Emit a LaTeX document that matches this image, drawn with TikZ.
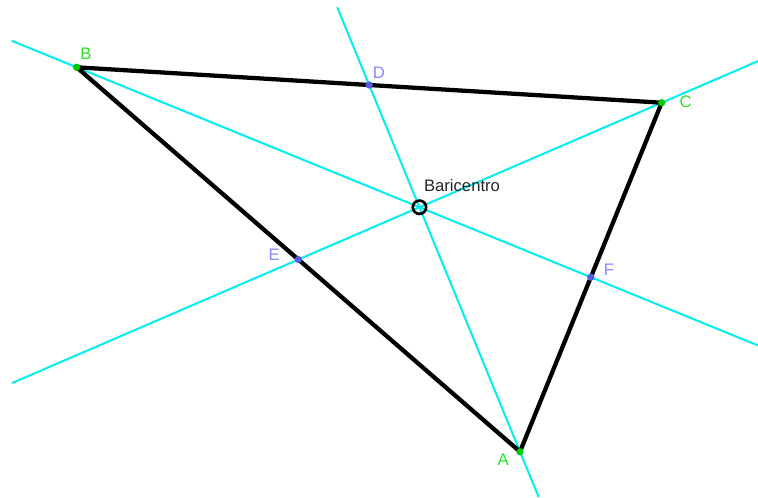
\documentclass[tikz,border=0pt]{standalone}
\usepackage{fontspec}
\setmainfont{Liberation Sans}
\usetikzlibrary{calc}
\definecolor{medcyan}{RGB}{0,238,238}
\definecolor{ptgreen}{RGB}{0,200,0}
\definecolor{labgreen}{RGB}{40,225,40}
\definecolor{midblue}{RGB}{90,90,225}
\definecolor{midlab}{RGB}{135,135,250}

\begin{document}
\begin{tikzpicture}[x=0.75pt, y=-0.75pt, every node/.style={font=\fontsize{12.5}{14}\selectfont},
    side/.style={line width=3.2pt, line cap=round, line join=round},
    median/.style={medcyan, line width=1.5pt},
    vertex/.style={circle, fill=ptgreen, inner sep=0pt, minimum size=5.5pt},
    midpt/.style={circle, fill=midblue, inner sep=0pt, minimum size=5.5pt}]
    \useasboundingbox (0,0) rectangle (758,497);

    % vertices of the triangle
    \coordinate (A) at (520,451.7);
    \coordinate (B) at (76.7,67.3);
    \coordinate (C) at (661.7,102.7);

    % midpoints of the sides
    \coordinate (D) at ($(B)!0.5!(C)$);
    \coordinate (E) at ($(A)!0.5!(B)$);
    \coordinate (F) at ($(A)!0.5!(C)$);

    % ends of the medians
    \coordinate (ad1) at ($(A)!-0.1235!(D)$);
    \coordinate (ad2) at ($(A)!1.212!(D)$);
    \coordinate (bf1) at ($(B)!-0.1264!(F)$);
    \coordinate (bf2) at ($(B)!1.3247!(F)$);
    \coordinate (ce1) at ($(C)!-0.265!(E)$);
    \coordinate (ce2) at ($(C)!1.7878!(E)$);

    \draw[median] (ad1) -- (ad2);
    \draw[median] (bf1) -- (bf2);
    \draw[median] (ce1) -- (ce2);

    \draw[side] (A) -- (B) -- (C) -- cycle;

    \node[vertex] (pA) at (A) {};
    \node[vertex] (pB) at (B) {};
    \node[vertex] (pC) at (C) {};
    \node[midpt] (pD) at (D) {};
    \node[midpt] (pE) at (E) {};
    \node[midpt] (pF) at (F) {};

    \node[text=labgreen] (lA) at (503.3,460) {A};
    \node[text=labgreen] (lB) at (86,54) {B};
    \node[text=labgreen] (lC) at (685.7,101.7) {C};
    \node[text=midlab] (lD) at (379,72.7) {D};
    \node[text=midlab] (lE) at (274.3,255) {E};
    \node[text=midlab] (lF) at (609,269.3) {F};

    % centroid
    \coordinate (G) at ($1/3*(A)+1/3*(B)+1/3*(C)$);
    \node[draw, circle, line width=2pt, minimum size=10pt, inner sep=0pt] (bar) at (G) {};
    \node[text=black!85] (lG) at (462,186) {Baricentro};
\end{tikzpicture}
\end{document}
